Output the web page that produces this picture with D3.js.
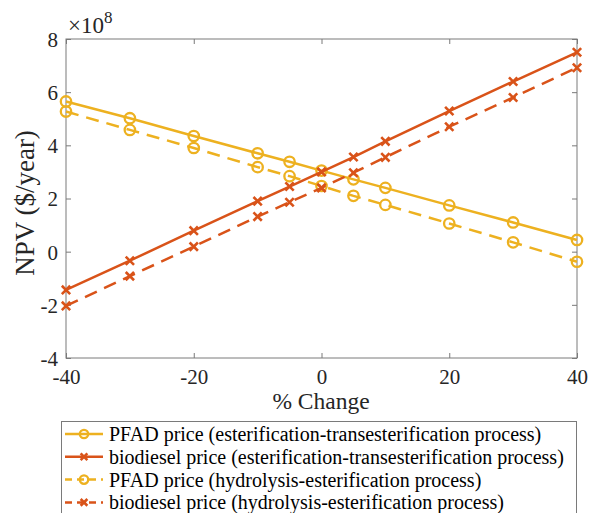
<!DOCTYPE html>
<html><head><meta charset="utf-8">
<script src="https://cdn.jsdelivr.net/npm/d3@7"></script>
<style>body{margin:0;background:#fff}svg{display:block;font-family:"Liberation Serif","Times New Roman",serif}</style>
</head><body><svg id="c" width="590" height="513"></svg>
<script>
const changes = [-40,-30,-20,-10,-5,0,5,10,20,30,40];
const pfadEsterTrans = [5.65,5.02,4.35,3.7,3.38,3.05,2.72,2.4,1.74,1.1,0.44];
const biodieselEsterTrans = [-1.44,-0.34,0.79,1.9,2.45,3.0,3.56,4.15,5.29,6.4,7.5];
const pfadHydroEster = [5.27,4.58,3.9,3.18,2.84,2.47,2.1,1.76,1.06,0.35,-0.38];
const biodieselHydroEster = [-2.04,-0.92,0.19,1.32,1.86,2.4,2.97,3.55,4.7,5.8,6.92];
const xTicks = [-40,-20,0,20,40];
const yTicks = [-4,-2,0,2,4,6,8];
const seriesNames = ["PFAD price (esterification-transesterification process)","biodiesel price (esterification-transesterification process)","PFAD price (hydrolysis-esterification process)","biodiesel price (hydrolysis-esterification process)"];

const yellow="#EDB120", orange="#D95319";
const series=[
 {name:seriesNames[0],vals:pfadEsterTrans,color:yellow,marker:"o",dash:null},
 {name:seriesNames[1],vals:biodieselEsterTrans,color:orange,marker:"x",dash:null},
 {name:seriesNames[2],vals:pfadHydroEster,color:yellow,marker:"o",dash:"13,8"},
 {name:seriesNames[3],vals:biodieselHydroEster,color:orange,marker:"x",dash:"13,8"}
];
const svg=d3.select("#c");
const L=66,R=577,T=39,B=358;
const x=d3.scaleLinear().domain([-40,40]).range([L,R]);
const y=d3.scaleLinear().domain([-4,8]).range([B,T]);
const axisColor="#7a7a7a", txt="#262626";
svg.append("rect").attr("x",L).attr("y",T).attr("width",R-L).attr("height",B-T).attr("fill","none").attr("stroke",axisColor).attr("stroke-width",1);
const tl=5, fmt=d=>String(d);
const gx=svg.append("g").attr("transform",`translate(0,${B})`).call(d3.axisBottom(x).tickValues(xTicks).tickSize(-tl).tickPadding(15).tickFormat(fmt));
const gxt=svg.append("g").attr("transform",`translate(0,${T})`).call(d3.axisTop(x).tickValues(xTicks).tickSize(-tl).tickFormat(""));
const gy=svg.append("g").attr("transform",`translate(${L},0)`).call(d3.axisLeft(y).tickValues(yTicks).tickSize(-tl).tickPadding(8).tickFormat(fmt));
const gyr=svg.append("g").attr("transform",`translate(${R},0)`).call(d3.axisRight(y).tickValues(yTicks).tickSize(-tl).tickFormat(""));
[gx,gxt,gy,gyr].forEach(g=>{g.select(".domain").remove();g.selectAll("line").attr("stroke",axisColor);g.selectAll("text").attr("font-family","Liberation Serif").attr("font-size",21).attr("fill",txt);});
gx.selectAll("text").attr("dy","0.5em");
gy.selectAll("text").attr("dy","0.35em");
const mt=svg.append("text").attr("x",68).attr("y",33).attr("font-size",23).attr("fill",txt);
mt.append("tspan").text("\u00d710");
mt.append("tspan").attr("font-size",17).attr("dy",-10).text("8");
svg.append("text").attr("x",321).attr("y",409).attr("text-anchor","middle").attr("font-size",23.5).attr("fill",txt).text("% Change");
svg.append("text").attr("transform","translate(34,203) rotate(-90)").attr("text-anchor","middle").attr("font-size",27).attr("fill",txt).text("NPV ($/year)");

function drawMarker(g,type,cx,cy,color,r){
  if(type==="o"){g.append("circle").attr("cx",cx).attr("cy",cy).attr("r",r).attr("fill","none").attr("stroke",color).attr("stroke-width",2.3);}
  else{const s=r*0.8;g.append("path").attr("d",`M${cx-s},${cy-s}L${cx+s},${cy+s}M${cx-s},${cy+s}L${cx+s},${cy-s}`).attr("stroke",color).attr("stroke-width",2.6);}
}
const line=d3.line().x((d,i)=>x(changes[i])).y(d=>y(d));
const plot=svg.append("g");
series.forEach(s=>{
  plot.append("path").attr("d",line(s.vals)).attr("fill","none").attr("stroke",s.color).attr("stroke-width",2.5).attr("stroke-dasharray",s.dash);
  const mg=plot.append("g");
  s.vals.forEach((v,i)=>drawMarker(mg,s.marker,x(changes[i]),y(v),s.color,5.2));
});
const lg=svg.append("g");
lg.append("rect").attr("x",61.5).attr("y",421.5).attr("width",515).attr("height",110).attr("fill","#fff").attr("stroke",axisColor);
series.forEach((s,i)=>{
  const ly=434+i*22.8;
  lg.append("line").attr("x1",65).attr("x2",103).attr("y1",ly).attr("y2",ly).attr("stroke",s.color).attr("stroke-width",2.5).attr("stroke-dasharray",s.dash?"7,5":null);
  drawMarker(lg,s.marker,84,ly,s.color,4.2);
  lg.append("text").attr("x",109).attr("y",ly).attr("dy","0.35em").attr("font-size",20).attr("fill","#000").text(s.name);
});
</script></body></html>
